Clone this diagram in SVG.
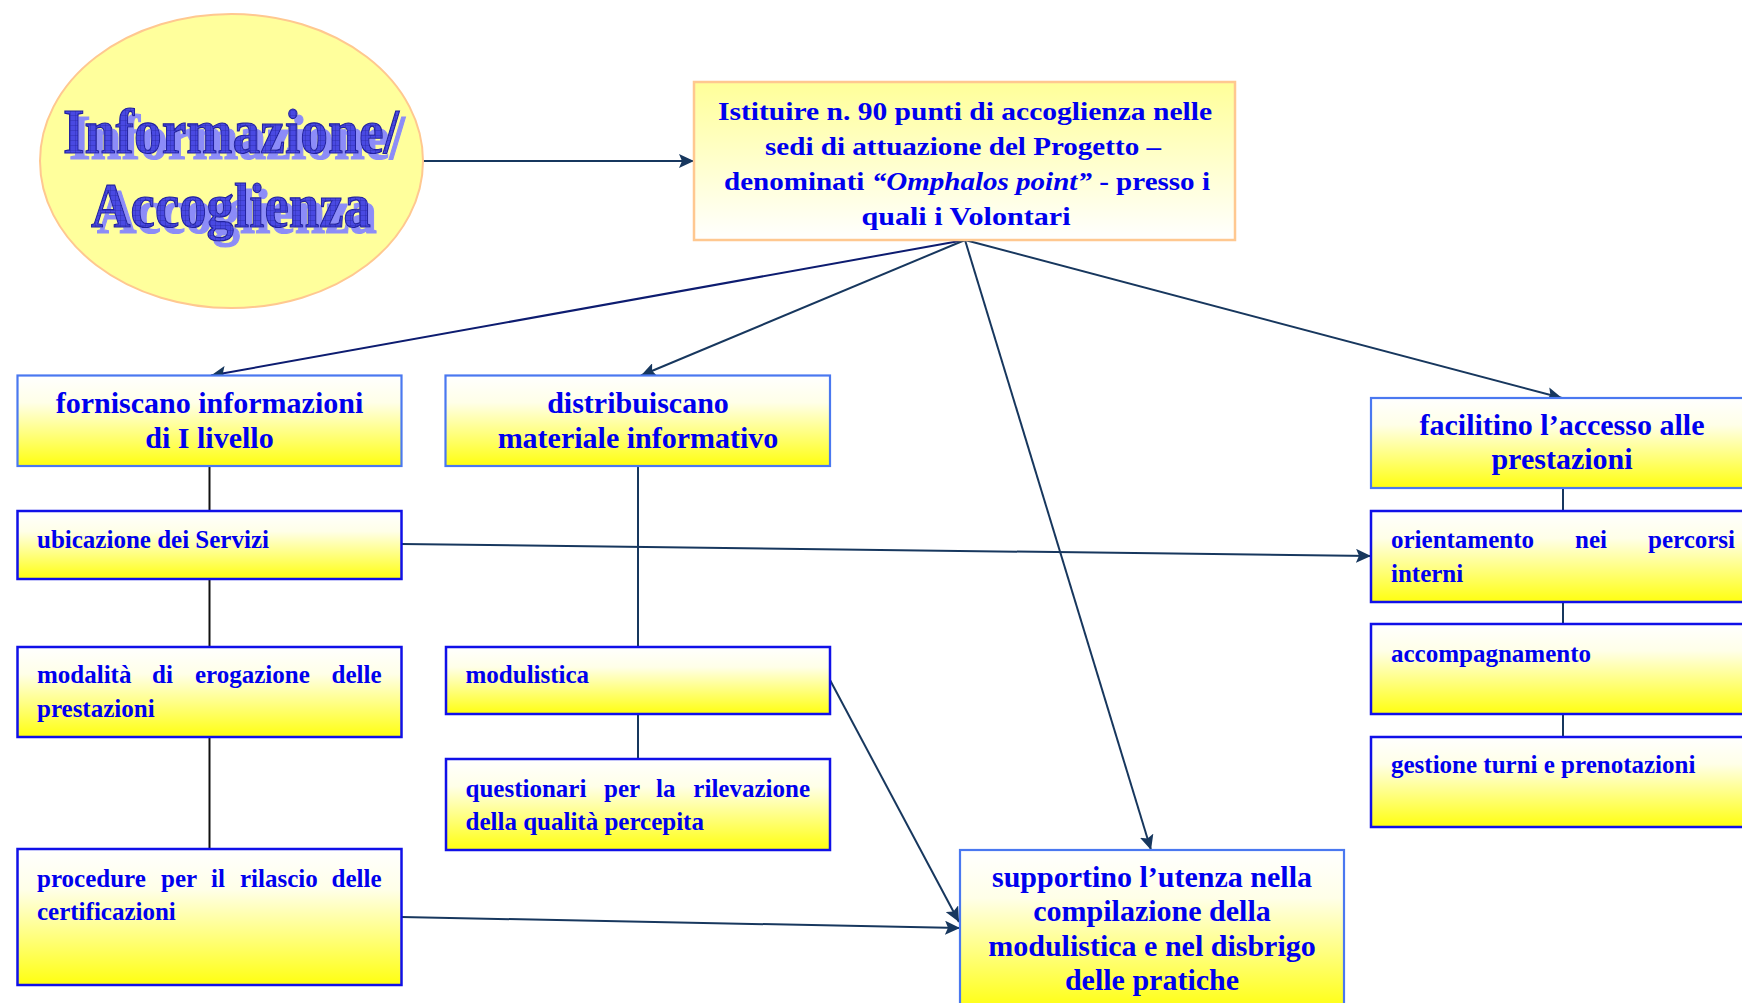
<svg xmlns="http://www.w3.org/2000/svg" width="1742" height="1003" viewBox="0 0 1742 1003">
<style>
.conn{fill:none;stroke:#17375E;stroke-width:2}
.blk{fill:none;stroke:#111;stroke-width:2}
.pbox{fill:url(#gY);stroke:#4A78F0;stroke-width:2.2}
.cbox{fill:url(#gY);stroke:#1010E8;stroke-width:2.5}
.pt{font-family:"Liberation Serif","Times New Roman",serif;font-weight:bold;font-size:30px;fill:#0000EE;text-anchor:middle}
.ct{font-family:"Liberation Serif","Times New Roman",serif;font-weight:bold;font-size:25px;fill:#0000EE}
.tt{font-family:"Liberation Serif","Times New Roman",serif;font-weight:bold;font-size:26px;fill:#0000EE;text-anchor:middle}
.big{font-family:"Liberation Serif","Times New Roman",serif;font-weight:bold;font-size:64px;text-anchor:middle;fill:url(#mesh);stroke:#2020A0;stroke-width:1.2;filter:url(#shadow)}
</style>
<defs>
<linearGradient id="gY" x1="0" y1="0" x2="0" y2="1">
<stop offset="0" stop-color="#FFFFFF"/>
<stop offset="0.3" stop-color="#FFFFE8"/>
<stop offset="1" stop-color="#FFFF10"/>
</linearGradient>
<linearGradient id="gT" x1="0" y1="0" x2="0" y2="1">
<stop offset="0" stop-color="#FFFF99"/>
<stop offset="1" stop-color="#FFFFFF"/>
</linearGradient>
<pattern id="mesh" width="5" height="5" patternUnits="userSpaceOnUse">
<rect width="5" height="5" fill="#4A4AE2"/>
<path d="M0,0 H5 M0,0 V5" stroke="#2A2AA6" stroke-width="0.8"/>
</pattern>
<filter id="shadow" x="-10%" y="-20%" width="130%" height="150%">
<feOffset in="SourceAlpha" dx="6" dy="6" result="off"/>
<feFlood flood-color="#8C8CF8"/>
<feComposite in2="off" operator="in" result="sh"/>
<feMerge><feMergeNode in="sh"/><feMergeNode in="SourceGraphic"/></feMerge>
</filter>
<marker id="arr" markerUnits="userSpaceOnUse" markerWidth="16" markerHeight="14" refX="15" refY="7" orient="auto">
<path d="M0,0 L15,7 L0,14 L3,7 z" fill="#17375E"/>
</marker>
</defs>

<g id="connectors">
<path class="conn" d="M423,161 L694,161" marker-end="url(#arr)"/>
<path class="conn" d="M965,240 L211,375.5" marker-end="url(#arr)" style="stroke:#0D1C70"/>
<path class="conn" d="M965,240 L641,375.5" marker-end="url(#arr)"/>
<path class="conn" d="M965,240 L1151,850" marker-end="url(#arr)"/>
<path class="conn" d="M965,240 L1562,398" marker-end="url(#arr)"/>
<path class="blk" d="M209.5,466 V511"/>
<path class="blk" d="M209.5,579 V647"/>
<path class="blk" d="M209.5,737 V849"/>
<path class="conn" d="M638,466 V647"/>
<path class="conn" d="M638,714 V759"/>
<path class="conn" d="M401.5,544 L1371,556" marker-end="url(#arr)"/>
<path class="conn" d="M830,680 L959,922" marker-end="url(#arr)"/>
<path class="conn" d="M401.5,917 L960,928" marker-end="url(#arr)"/>
<path class="conn" d="M1563,488 V511"/>
<path class="conn" d="M1563,602 V624"/>
<path class="conn" d="M1563,714 V737"/>
</g>

<g id="n-info">
<ellipse cx="231.5" cy="161" rx="191.5" ry="147" fill="#FFFF9C" stroke="#FFC890" stroke-width="2"/>
<text class="big" x="231" y="153" textLength="336" lengthAdjust="spacingAndGlyphs">Informazione/</text>
<text class="big" x="231" y="227" textLength="280" lengthAdjust="spacingAndGlyphs">Accoglienza</text>
</g>

<g id="n-istituire">
<rect x="694" y="82" width="541" height="158" fill="url(#gT)" stroke="#FFC890" stroke-width="2.5"/>
<text class="tt" x="965" y="120" textLength="494" lengthAdjust="spacingAndGlyphs">Istituire n. 90 punti di accoglienza nelle</text>
<text class="tt" x="963" y="154.5" textLength="396" lengthAdjust="spacingAndGlyphs">sedi di attuazione del Progetto –</text>
<text class="tt" x="967" y="189.5" textLength="486" lengthAdjust="spacingAndGlyphs">denominati  <tspan font-style="italic">“Omphalos point”</tspan> - presso i</text>
<text class="tt" x="966" y="224.5" textLength="209" lengthAdjust="spacingAndGlyphs">quali i Volontari</text>
</g>

<g id="n-forniscano">
<rect class="pbox" x="17.5" y="375.5" width="384" height="90.5"/>
<text class="pt" x="209.5" y="413">forniscano informazioni</text>
<text class="pt" x="209.5" y="448">di I livello</text>
</g>

<g id="n-distribuiscano">
<rect class="pbox" x="445.5" y="375.5" width="384.5" height="90.5"/>
<text class="pt" x="638" y="413">distribuiscano</text>
<text class="pt" x="638" y="448">materiale informativo</text>
</g>

<g id="n-facilitino">
<rect class="pbox" x="1371" y="398" width="380" height="90"/>
<text class="pt" x="1562" y="435">facilitino l’accesso alle</text>
<text class="pt" x="1562" y="469">prestazioni</text>
</g>

<g id="n-supportino">
<rect class="pbox" x="960" y="850" width="384" height="160"/>
<text class="pt" x="1152" y="887">supportino l’utenza nella</text>
<text class="pt" x="1152" y="921">compilazione della</text>
<text class="pt" x="1152" y="955.5">modulistica e nel disbrigo</text>
<text class="pt" x="1152" y="990">delle pratiche</text>
</g>

<g id="n-ubicazione">
<rect class="cbox" x="17.5" y="511" width="384" height="68"/>
<text class="ct" x="37" y="548">ubicazione dei Servizi</text>
</g>

<g id="n-modalita">
<rect class="cbox" x="17.5" y="647" width="384" height="90"/>
<text class="ct" y="683"><tspan x="37">modalità</tspan><tspan x="152">di</tspan><tspan x="195">erogazione</tspan><tspan x="381.5" text-anchor="end">delle</tspan></text>
<text class="ct" x="37" y="717">prestazioni</text>
</g>

<g id="n-procedure">
<rect class="cbox" x="17.5" y="849" width="384" height="136"/>
<text class="ct" y="887"><tspan x="37">procedure</tspan><tspan x="161">per</tspan><tspan x="211">il</tspan><tspan x="240">rilascio</tspan><tspan x="381.5" text-anchor="end">delle</tspan></text>
<text class="ct" x="37" y="920">certificazioni</text>
</g>

<g id="n-modulistica">
<rect class="cbox" x="446" y="647" width="384" height="67"/>
<text class="ct" x="465.5" y="683">modulistica</text>
</g>

<g id="n-questionari">
<rect class="cbox" x="446" y="759" width="384" height="91"/>
<text class="ct" y="797"><tspan x="465.5">questionari</tspan><tspan x="604">per</tspan><tspan x="656">la</tspan><tspan x="810" text-anchor="end">rilevazione</tspan></text>
<text class="ct" x="465.5" y="830">della qualità percepita</text>
</g>

<g id="n-orientamento">
<rect class="cbox" x="1371" y="511" width="380" height="91"/>
<text class="ct" y="548"><tspan x="1391">orientamento</tspan><tspan x="1575">nei</tspan><tspan x="1735" text-anchor="end">percorsi</tspan></text>
<text class="ct" x="1391" y="582">interni</text>
</g>

<g id="n-accompagnamento">
<rect class="cbox" x="1371" y="624" width="380" height="90"/>
<text class="ct" x="1391" y="662">accompagnamento</text>
</g>

<g id="n-gestione">
<rect class="cbox" x="1371" y="737" width="380" height="90"/>
<text class="ct" x="1391" y="773">gestione turni e prenotazioni</text>
</g>
</svg>
